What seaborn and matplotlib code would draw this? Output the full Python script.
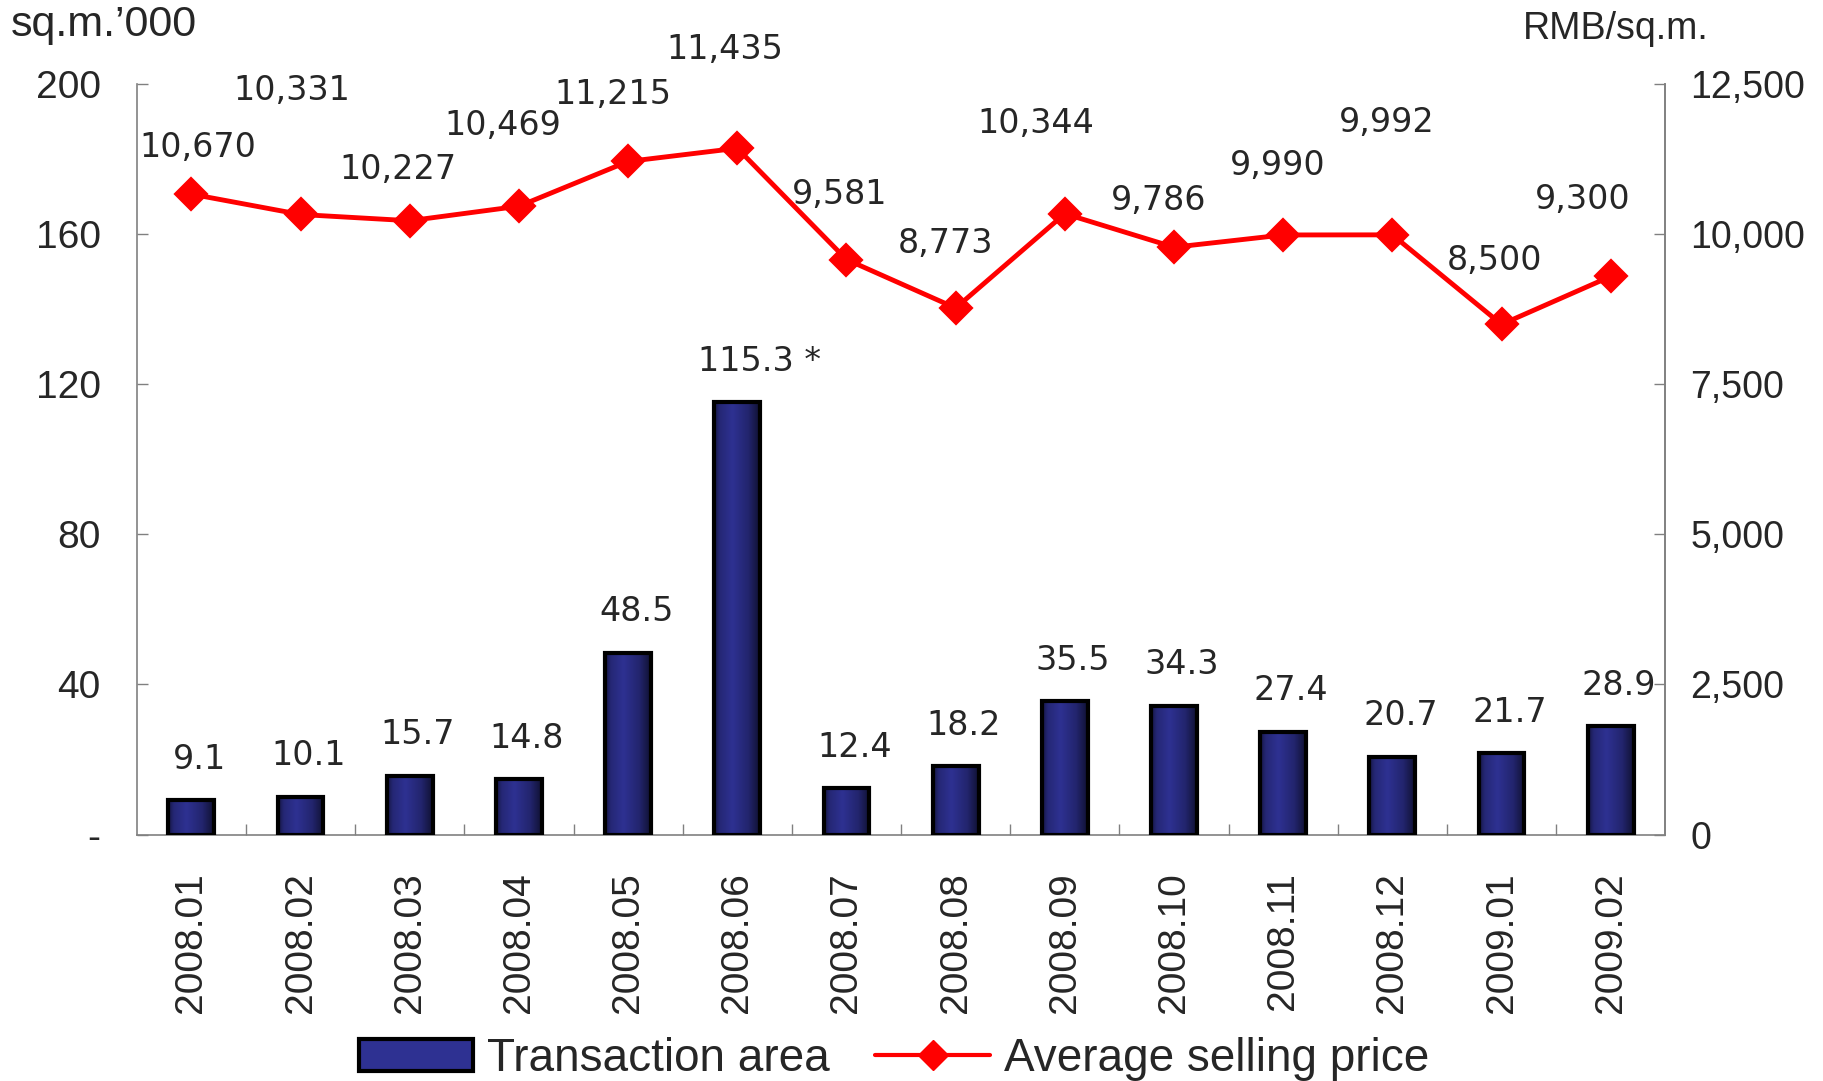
import numpy as np
import pandas as pd
import matplotlib
matplotlib.use("Agg")
import matplotlib.pyplot as plt
import seaborn as sns
from matplotlib.patches import Patch
from matplotlib.lines import Line2D
from matplotlib.ticker import FixedLocator, FuncFormatter

# data
months = ["2008.01", "2008.02", "2008.03", "2008.04", "2008.05", "2008.06", "2008.07",
          "2008.08", "2008.09", "2008.10", "2008.11", "2008.12", "2009.01", "2009.02"]
area = [9.1, 10.1, 15.7, 14.8, 48.5, 115.3, 12.4, 18.2, 35.5, 34.3, 27.4, 20.7, 21.7, 28.9]
price = [10670, 10331, 10227, 10469, 11215, 11435, 9581, 8773, 10344, 9786, 9990, 9992, 8500, 9300]
area_labels = ["9.1", "10.1", "15.7", "14.8", "48.5", "115.3 *", "12.4", "18.2", "35.5",
               "34.3", "27.4", "20.7", "21.7", "28.9"]
# label offsets for the price labels (pixels, relative to each point)
price_off = [(6, 47), (-9, 124), (-12, 51), (-16, 81), (-15, 67), (-12, 99), (-7, 65),
             (-10, 65), (-29, 90), (-15, 47), (-5, 69), (-6, 112), (-7, 64), (-28, 77)]

df = pd.DataFrame({"month": months, "area": area, "price": price})

sns.set_style("white")
plt.rcParams["font.family"] = ["Liberation Sans", "DejaVu Sans"]

NAVY = "#2e3192"
RED = "#ff0000"
GREY = "#808080"

fig = plt.figure(figsize=(18.24, 10.81), dpi=100)
ax = fig.add_axes([0.075, 0.228, 0.838, 0.694])

sns.barplot(data=df, x="month", y="area", ax=ax, color=NAVY, width=0.42,
            edgecolor="black", linewidth=3, saturation=1, zorder=2)

# horizontal shading on the bars
grad = np.linspace(0, 1, 64)
shade = np.interp(grad, [0, 0.12, 0.4, 0.75, 1.0], [0.45, 0.8, 1.0, 0.75, 0.35])
base = np.array(matplotlib.colors.to_rgb(NAVY))
img = (shade[:, None] * base[None, :])[None, :, :]
for p in ax.patches:
    x0, y0 = p.get_x(), p.get_y()
    im = ax.imshow(img, extent=[x0, x0 + p.get_width(), y0, y0 + p.get_height()],
                   aspect="auto", zorder=2.5, interpolation="bicubic")
    im.set_clip_path(p)
    p.set_facecolor("none")
    p.set_zorder(3)

ax.set_xlim(-0.5, len(months) - 0.5)
ax.set_ylim(0, 200)
ax.set_aspect("auto")

for i, (v, lab) in enumerate(zip(area, area_labels)):
    ax.annotate(lab, (i, v), xytext=(8 if "*" not in lab else 22, 41), textcoords="offset pixels",
                ha="center", va="center", fontsize=24, family="DejaVu Sans")

# right axis: price line
ax2 = ax.twinx()
sns.pointplot(data=df, x="month", y="price", ax=ax2, color=RED, markers="D",
              markersize=15, linewidth=3.5, zorder=4)
ax2.set_ylim(0, 12500)
ax2.set_xlim(-0.5, len(months) - 0.5)
for i, (v, (dx, dy)) in enumerate(zip(price, price_off)):
    ax2.annotate(f"{v:,}", (i, v), xytext=(dx, dy), textcoords="offset pixels",
                 ha="center", va="center", fontsize=24, family="DejaVu Sans")

# axes styling
ax.set_xlabel("")
ax.set_ylabel("")
ax2.set_ylabel("")
ax.set_yticks([0, 40, 80, 120, 160, 200])
ax.yaxis.set_major_formatter(FuncFormatter(lambda v, p: "-" if v == 0 else f"{v:.0f}"))
ax2.set_yticks([0, 2500, 5000, 7500, 10000, 12500])
ax2.yaxis.set_major_formatter(FuncFormatter(lambda v, p: f"{v:,.0f}"))

ax.tick_params(axis="y", direction="in", length=8, width=1, color=GREY, pad=26,
               labelsize=28, left=True)
ax2.tick_params(axis="y", direction="in", length=8, width=1, color=GREY, pad=18,
                labelsize=27, right=True)
ax.tick_params(axis="x", which="major", length=0, pad=27, labelsize=28, labelrotation=90)
ax.xaxis.set_minor_locator(FixedLocator(np.arange(0.5, len(months) - 1, 1)))
ax.tick_params(axis="x", which="minor", direction="in", length=8, width=1, color=GREY, bottom=True)
for lab in ax.get_xticklabels():
    lab.set_va("top")

for a in (ax, ax2):
    for s in a.spines.values():
        s.set_color(GREY)
        s.set_linewidth(1.2)
    a.spines["top"].set_visible(False)
    a.grid(False)
ax2.spines["left"].set_visible(False)
ax2.spines["bottom"].set_visible(False)

fig.text(0.006, 0.995, "sq.m.\u2019000", ha="left", va="top", fontsize=31)
fig.text(0.937, 0.973, "RMB/sq.m.", ha="right", va="center", fontsize=27)

handles = [Patch(facecolor=NAVY, edgecolor="black", linewidth=3),
           Line2D([], [], color=RED, marker="D", markersize=15, linewidth=3)]
fig.legend(handles, ["Transaction area", "Average selling price"], loc="lower center",
           bbox_to_anchor=(0.49, -0.038), ncol=2, frameon=False, fontsize=33,
           handlelength=2.5, handletextpad=0.3, columnspacing=1.0)

fig.savefig("out.png", dpi=100)
